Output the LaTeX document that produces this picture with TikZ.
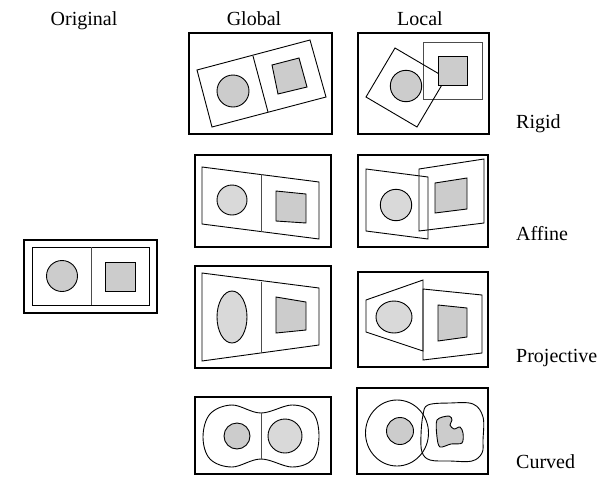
\documentclass[tikz,border=0pt]{standalone}
\usepackage{fontspec}
\setmainfont{Liberation Serif}
\usepackage{tikz}
\usetikzlibrary{calc}

\begin{document}
\begin{tikzpicture}[x=1pt, y=-1pt, line join=miter,
        frame_style/.style={draw=black, line width=2.6pt},
        shape_style/.style={draw=black, line width=0.9pt},
        faint_style/.style={draw=black!70, line width=0.9pt},
        dark_fill_style/.style={draw=black, line width=0.9pt, fill=black!20},
        light_fill_style/.style={draw=black, line width=0.9pt, fill=black!15},
        label_style/.style={font=\fontsize{20}{24}\selectfont, inner sep=0pt, anchor=base west},
        head_style/.style={font=\fontsize{20}{24}\selectfont, inner sep=0pt, anchor=base}]

        \useasboundingbox (0,0) rectangle (614,499);

        % headings and row names
        \node [head_style] (h_orig) at (84,25) {Original};
        \node [head_style] (h_glob) at (254,25) {Global};
        \node [head_style] (h_loc) at (420,25) {Local};
        \node [label_style] (l_rigid) at (516,128) {Rigid};
        \node [label_style] (l_affine) at (516,240) {Affine};
        \node [label_style] (l_proj) at (516,362) {Projective};
        \node [label_style] (l_curved) at (516,468) {Curved};

        % original
        \draw [frame_style] (24,240) rectangle (157,313);
        \draw [shape_style] (32,247) rectangle (149,305);
        \draw [faint_style] (91,247) -- (91,305);
        \draw [dark_fill_style] (62,276) circle (15.5);
        \draw [dark_fill_style] (105,262) rectangle (135,291);

        % global rigid
        \draw [frame_style] (189,33) rectangle (332,134);
        \draw [shape_style] (197,70) -- (310,40) -- (326,97) -- (212,127) -- cycle;
        \draw [shape_style] (253,56) -- (268,112);
        \draw [dark_fill_style] (233,91) circle (16);
        \draw [dark_fill_style] (272,65) -- (299,58) -- (307,87) -- (278,94) -- cycle;

        % local rigid
        \draw [frame_style] (358,33) rectangle (489,134);
        \draw [faint_style] (423,42) rectangle (482,99);
        \draw [shape_style] (395,48) -- (446,78) -- (417,127) -- (366,97) -- cycle;
        \draw [dark_fill_style] (406,86) circle (15.7);
        \draw [dark_fill_style] (438,56) rectangle (467,85);

        % global affine
        \draw [frame_style] (195,155) rectangle (331,247);
        \draw [shape_style] (202,167) -- (319,182) -- (319,239) -- (202,224) -- cycle;
        \draw [faint_style] (261,174) -- (261,232);
        \draw [light_fill_style] (232,200) circle (15);
        \draw [dark_fill_style] (276,191) -- (306,194) -- (306,223) -- (276,221) -- cycle;

        % local affine
        \draw [frame_style] (358,155) rectangle (488,247);
        \draw [shape_style] (366,169) -- (428,177) -- (428,239) -- (366,231) -- cycle;
        \draw [shape_style] (419,169) -- (484,159) -- (484,223) -- (419,231) -- cycle;
        \draw [light_fill_style] (396,205) circle (15.7);
        \draw [dark_fill_style] (435,183) -- (467,178) -- (467,209) -- (435,213) -- cycle;

        % global projective
        \draw [frame_style] (195,266) rectangle (331,368);
        \draw [shape_style] (202,273) -- (319,288) -- (319,345) -- (202,361) -- cycle;
        \draw [faint_style] (261,282) -- (261,353);
        \draw [light_fill_style] (232,317) ellipse (15 and 26);
        \draw [dark_fill_style] (276,297) -- (306,302) -- (306,330) -- (276,333) -- cycle;

        % local projective
        \draw [frame_style] (358,272) rectangle (488,367);
        \draw [shape_style] (366,300) -- (423,280) -- (423,351) -- (366,332) -- cycle;
        \draw [shape_style] (423,289) -- (482,295) -- (482,353) -- (423,360) -- cycle;
        \draw [light_fill_style] (394,317) ellipse (18 and 16);
        \draw [dark_fill_style] (438,305) -- (467,308) -- (467,337) -- (438,341) -- cycle;

        % global curved
        \draw [frame_style] (195,397) rectangle (331,474);
        \draw [shape_style] plot [smooth cycle, tension=0.6] coordinates {
            (261,413) (232,405) (210,414) (203,437) (210,459) (232,467)
            (261,459) (292,467) (313,459) (319,436) (313,413) (292,405)};
        \draw [faint_style] (261,413) -- (261,459);
        \draw [dark_fill_style] (237,436) circle (13);
        \draw [light_fill_style] (285,436) circle (17);

        % local curved
        \draw [frame_style] (357,388) rectangle (488,474);
        \draw [shape_style] (397,433) ellipse (31.5 and 33);
        \draw [shape_style] plot [smooth cycle, tension=0.6] coordinates {
            (428,405) (450,403) (473,404) (483,417) (483,440) (482,453)
            (472,461) (450,461) (430,460) (422,452) (421,435) (423,415)};
        \draw [dark_fill_style] (400,431) circle (13.5);
        \draw [dark_fill_style] plot [smooth cycle, tension=0.5] coordinates {
            (437,420) (449,416) (452,420) (450,425) (454,429) (460,427)
            (463,433) (462,443) (451,444) (440,447) (437,437)};

\end{tikzpicture}
\end{document}
